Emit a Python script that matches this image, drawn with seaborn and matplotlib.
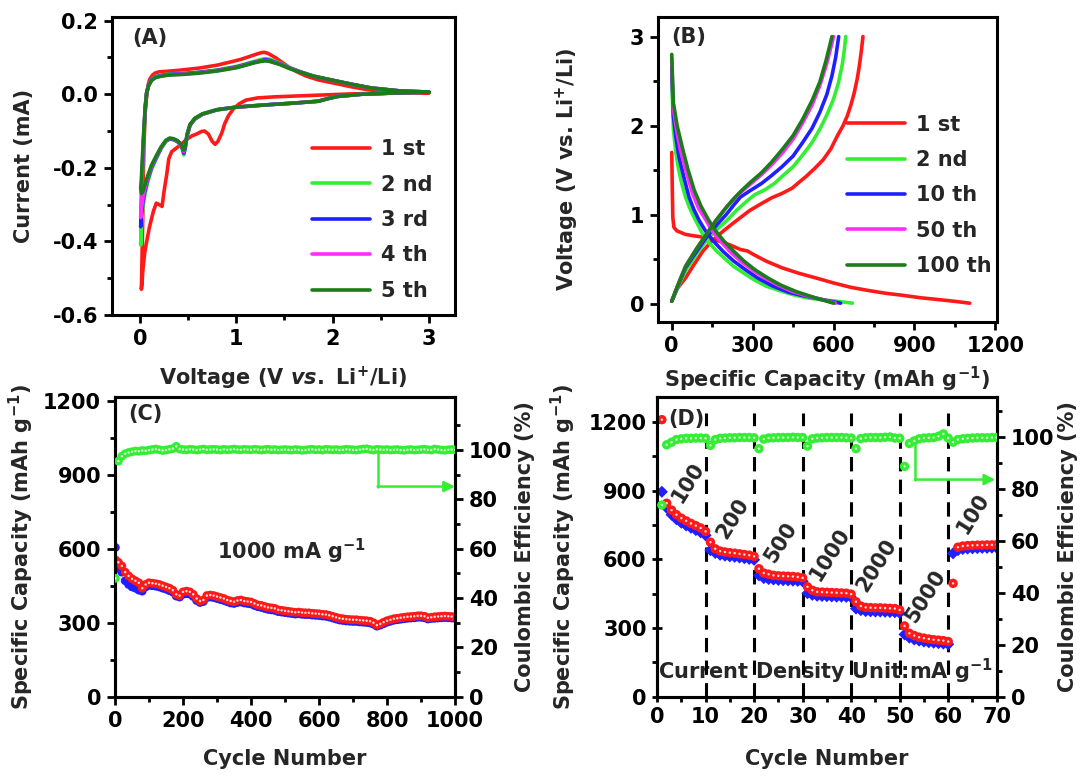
import numpy as np
import matplotlib
matplotlib.use('Agg')
import matplotlib.pyplot as plt
import seaborn as sns
from matplotlib.ticker import MultipleLocator, FixedLocator, FormatStrFormatter

# ---------------- DATA ----------------
# (A) cyclic voltammetry, cycle 1
cv1_v = [3.00, 2.60, 2.20, 2.00, 1.70, 1.40, 1.22, 1.10, 1.03, 0.97,
         0.92, 0.88, 0.85, 0.81, 0.78, 0.75, 0.71, 0.67, 0.64, 0.59,
         0.54, 0.48, 0.42, 0.37, 0.33, 0.30, 0.28, 0.25, 0.23, 0.20,
         0.17, 0.14, 0.10, 0.07, 0.05, 0.03, 0.02, 0.015, 0.02, 0.03,
         0.035, 0.045, 0.055, 0.07, 0.085, 0.10, 0.13, 0.16, 0.20, 0.26,
         0.40, 0.61, 0.80, 0.96, 1.05, 1.13, 1.21, 1.26, 1.29, 1.33,
         1.41, 1.48, 1.55, 1.63, 1.72, 1.85, 2.00, 2.20, 2.35, 2.60,
         2.80, 3.00]
cv1_i = [0.004, 0.003, 0.001, -0.001, -0.004, -0.007, -0.010, -0.016, -0.026, -0.040,
         -0.058, -0.080, -0.105, -0.128, -0.136, -0.128, -0.108, -0.100, -0.101, -0.108,
         -0.113, -0.124, -0.138, -0.148, -0.156, -0.175, -0.215, -0.265, -0.305, -0.300,
         -0.296, -0.318, -0.360, -0.400, -0.430, -0.480, -0.520, -0.530, -0.470, -0.330,
         -0.220, -0.120, -0.050, -0.005, 0.025, 0.040, 0.052, 0.058, 0.061, 0.062,
         0.065, 0.071, 0.079, 0.089, 0.095, 0.102, 0.109, 0.113, 0.114, 0.111,
         0.099, 0.086, 0.073, 0.061, 0.050, 0.039, 0.031, 0.020, 0.013, 0.008,
         0.006, 0.004]
# (A) cycles 2-5 share the potential sweep
cv_v = [3.00, 2.60, 2.30, 2.05, 1.95, 1.85, 1.60, 1.30, 1.00, 0.80,
        0.65, 0.57, 0.52, 0.49, 0.47, 0.455, 0.44, 0.42, 0.39, 0.35,
        0.31, 0.27, 0.22, 0.17, 0.12, 0.08, 0.05, 0.03, 0.015, 0.008,
        0.015, 0.025, 0.04, 0.055, 0.07, 0.09, 0.12, 0.16, 0.22, 0.30,
        0.45, 0.60, 0.80, 1.00, 1.10, 1.18, 1.25, 1.30, 1.35, 1.45,
        1.55, 1.65, 1.80, 2.00, 2.20, 2.40, 2.70, 3.00]
cv2_i = [0.006, 0.003, 0.000, -0.006, -0.012, -0.019, -0.024, -0.029, -0.035, -0.043,
         -0.055, -0.068, -0.085, -0.115, -0.150, -0.165, -0.150, -0.138, -0.130, -0.124,
         -0.122, -0.128, -0.148, -0.175, -0.205, -0.240, -0.275, -0.310, -0.360, -0.410,
         -0.330, -0.220, -0.120, -0.040, 0.005, 0.025, 0.040, 0.048, 0.052, 0.055,
         0.057, 0.060, 0.066, 0.076, 0.083, 0.089, 0.094, 0.097, 0.095, 0.085,
         0.073, 0.063, 0.050, 0.038, 0.027, 0.017, 0.009, 0.006]
cv3_i = [0.006, 0.003, 0.000, -0.006, -0.012, -0.019, -0.024, -0.029, -0.035, -0.042,
         -0.054, -0.067, -0.084, -0.112, -0.146, -0.160, -0.147, -0.136, -0.128, -0.123,
         -0.121, -0.127, -0.146, -0.172, -0.200, -0.232, -0.265, -0.295, -0.330, -0.360,
         -0.300, -0.205, -0.112, -0.038, 0.004, 0.024, 0.039, 0.047, 0.051, 0.054,
         0.056, 0.059, 0.065, 0.074, 0.081, 0.087, 0.091, 0.094, 0.092, 0.083,
         0.072, 0.062, 0.049, 0.038, 0.027, 0.017, 0.009, 0.006]
cv4_i = [0.006, 0.003, 0.000, -0.006, -0.012, -0.019, -0.024, -0.029, -0.035, -0.042,
         -0.054, -0.066, -0.083, -0.110, -0.143, -0.156, -0.145, -0.135, -0.127, -0.122,
         -0.120, -0.126, -0.145, -0.170, -0.197, -0.228, -0.258, -0.285, -0.315, -0.335,
         -0.285, -0.198, -0.108, -0.036, 0.004, 0.024, 0.038, 0.046, 0.050, 0.053,
         0.055, 0.058, 0.064, 0.073, 0.080, 0.086, 0.090, 0.092, 0.090, 0.082,
         0.071, 0.062, 0.049, 0.038, 0.027, 0.017, 0.009, 0.006]
cv5_i = [0.006, 0.003, 0.000, -0.006, -0.012, -0.019, -0.024, -0.029, -0.035, -0.042,
         -0.053, -0.065, -0.082, -0.108, -0.140, -0.152, -0.143, -0.134, -0.126, -0.121,
         -0.119, -0.125, -0.143, -0.167, -0.193, -0.222, -0.248, -0.265, -0.270, -0.255,
         -0.230, -0.175, -0.100, -0.034, 0.004, 0.023, 0.037, 0.045, 0.049, 0.052,
         0.054, 0.057, 0.063, 0.072, 0.079, 0.085, 0.089, 0.091, 0.089, 0.081,
         0.070, 0.061, 0.049, 0.038, 0.027, 0.017, 0.009, 0.006]
cv_labels = ['1 st', '2 nd', '3 rd', '4 th', '5 th']

# (B) galvanostatic discharge / charge profiles
gd1_c = [0, 2, 4, 8, 19, 35, 51, 80, 115, 150, 192, 225, 255, 280, 306, 350, 409, 470,
         536, 600, 664, 730, 792, 860, 920, 1000, 1060, 1105]
gd1_v = [1.70, 1.30, 0.97, 0.86, 0.82, 0.80, 0.78, 0.765, 0.75, 0.725, 0.69, 0.65, 0.61,
         0.595, 0.55, 0.48, 0.405, 0.345, 0.29, 0.235, 0.186, 0.15, 0.12, 0.095, 0.07,
         0.045, 0.025, 0.008]
gc1_c = [0, 20, 51, 80, 115, 150, 192, 225, 255, 290, 332, 370, 409, 447, 470, 498, 530,
         562, 590, 613, 635, 651, 665, 677, 688, 696, 703, 709]
gc1_v = [0.03, 0.17, 0.29, 0.43, 0.59, 0.71, 0.82, 0.90, 0.97, 1.05, 1.125, 1.19, 1.24,
         1.30, 1.36, 1.43, 1.52, 1.62, 1.74, 1.88, 2.00, 2.11, 2.24, 2.375, 2.53, 2.68,
         2.84, 3.00]
gd2_c = [0, 3, 6, 15, 26, 38, 51, 66, 83, 100, 115, 140, 166, 200, 230, 270, 306, 350,
         409, 460, 511, 560, 600, 640, 670]
gd2_v = [2.55, 2.25, 1.96, 1.70, 1.50, 1.34, 1.20, 1.08, 0.97, 0.87, 0.78, 0.68, 0.595,
         0.50, 0.42, 0.34, 0.27, 0.20, 0.14, 0.095, 0.064, 0.045, 0.034, 0.02, 0.008]
gc2_c = [0, 20, 51, 90, 128, 165, 204, 240, 281, 310, 345, 380, 409, 450, 485, 520, 549,
         575, 600, 618, 632, 640, 645]
gc2_v = [0.03, 0.17, 0.37, 0.55, 0.71, 0.83, 0.935, 1.05, 1.16, 1.23, 1.28, 1.35, 1.43,
         1.54, 1.67, 1.81, 1.96, 2.12, 2.30, 2.48, 2.68, 2.85, 3.00]
gd10_c = [0, 3, 6, 15, 26, 45, 64, 82, 102, 125, 153, 190, 230, 275, 319, 375, 434, 490,
          536, 580, 626]
gd10_v = [2.65, 2.38, 2.11, 1.88, 1.66, 1.42, 1.20, 1.06, 0.935, 0.82, 0.71, 0.59, 0.48,
          0.38, 0.29, 0.20, 0.13, 0.09, 0.064, 0.035, 0.008]
gc10_c = [0, 20, 51, 90, 128, 165, 204, 230, 255, 290, 332, 370, 409, 450, 485, 520, 549,
          575, 594, 608, 619]
gc10_v = [0.03, 0.18, 0.405, 0.58, 0.745, 0.88, 1.01, 1.11, 1.20, 1.27, 1.35, 1.44, 1.54,
          1.66, 1.81, 1.97, 2.15, 2.35, 2.56, 2.77, 3.00]
gd50_c = [0, 3, 6, 18, 32, 55, 77, 100, 128, 150, 179, 215, 255, 300, 345, 395, 447, 495,
          536, 575, 607]
gd50_v = [2.75, 2.45, 2.19, 1.95, 1.73, 1.47, 1.24, 1.07, 0.935, 0.82, 0.71, 0.59, 0.48,
          0.38, 0.29, 0.21, 0.14, 0.095, 0.064, 0.035, 0.008]
gc50_c = [0, 20, 51, 90, 128, 165, 204, 225, 243, 290, 332, 370, 409, 450, 485, 520, 549,
          575, 600]
gc50_v = [0.03, 0.19, 0.42, 0.61, 0.78, 0.94, 1.09, 1.16, 1.22, 1.34, 1.45, 1.56, 1.69,
          1.85, 2.03, 2.23, 2.45, 2.70, 3.00]
gd100_c = [0, 3, 6, 20, 38, 60, 83, 108, 134, 160, 192, 230, 268, 310, 357, 405, 460, 505,
           536, 570, 600]
gd100_v = [2.80, 2.52, 2.26, 2.00, 1.77, 1.51, 1.28, 1.10, 0.955, 0.83, 0.71, 0.59, 0.48,
           0.38, 0.29, 0.21, 0.14, 0.095, 0.064, 0.035, 0.008]
gc100_c = [0, 20, 51, 90, 128, 165, 204, 230, 255, 290, 332, 370, 409, 450, 485, 520, 549,
           572, 594]
gc100_v = [0.03, 0.19, 0.42, 0.61, 0.78, 0.94, 1.09, 1.18, 1.26, 1.36, 1.47, 1.59, 1.73,
           1.89, 2.07, 2.28, 2.49, 2.73, 3.00]
gcd_labels = ['1 st', '2 nd', '10 th', '50 th', '100 th']

# (C) long cycling at 1000 mA g-1 (cycle 1, then every 10th cycle)
cyc_c = [1] + list(range(10, 1001, 10))
dis_c = [555, 545, 530, 505, 490, 478, 470, 462, 440, 455,
         462, 460, 458, 455, 450, 445, 440, 432, 415, 410,
         425, 428, 425, 415, 398, 388, 392, 410, 412, 410,
         406, 402, 398, 392, 388, 385, 390, 392, 388, 386,
         384, 378, 372, 370, 366, 362, 360, 358, 352, 350,
         348, 346, 344, 342, 343, 341, 340, 340, 338, 337,
         336, 334, 333, 330, 326, 322, 318, 316, 314, 313,
         312, 312, 310, 309, 308, 306, 300, 290, 295, 302,
         308, 312, 316, 318, 320, 322, 324, 325, 326, 328,
         328, 326, 320, 322, 324, 325, 326, 327, 326, 325,
         324]
chg_c = [605, 520, 505, 470, 455, 445, 440, 432, 428, 445,
         452, 450, 448, 445, 440, 436, 430, 424, 408, 404,
         415, 418, 416, 406, 390, 382, 386, 402, 404, 402,
         398, 394, 390, 385, 380, 378, 382, 384, 380, 378,
         376, 370, 365, 362, 358, 354, 352, 350, 345, 343,
         341, 339, 337, 335, 336, 334, 333, 333, 331, 330,
         329, 327, 326, 323, 319, 315, 311, 309, 307, 306,
         305, 305, 303, 302, 301, 299, 294, 286, 290, 296,
         302, 306, 310, 312, 314, 316, 318, 319, 320, 322,
         322, 320, 315, 317, 318, 319, 320, 321, 320, 319,
         318]
ce_c = [48.0, 95.5, 97.5, 98.5, 99.0, 99.3, 99.6, 99.5, 99.8, 99.7,
        100.0, 100.2, 100.4, 100.1, 99.8, 100.0, 100.3, 100.6, 101.5, 100.4,
        100.2, 100.1, 100.3, 100.2, 100.0, 100.2, 100.4, 100.1, 100.2, 100.3,
        100.2, 100.0, 100.3, 100.1, 100.2, 100.4, 100.2, 100.1, 100.3, 100.2,
        100.1, 100.3, 100.2, 100.0, 100.2, 100.3, 100.1, 100.2, 100.0, 100.1,
        100.2, 100.1, 100.0, 100.2, 100.1, 99.9, 100.0, 100.2, 100.3, 100.1,
        100.2, 100.0, 100.3, 100.2, 100.1, 100.2, 100.0, 100.1, 100.3, 100.2,
        100.1, 100.0, 100.2, 100.4, 100.5, 100.2, 100.0, 100.3, 100.2, 100.1,
        100.2, 100.0, 100.1, 100.2, 100.0, 99.9, 100.1, 100.2, 100.0, 100.1,
        100.2, 100.3, 100.1, 100.0, 100.4, 100.2, 100.0, 99.9, 100.1, 100.2,
        100.1]

# (D) rate capability, cycles 1-70
cyc_d = list(range(1, 71))
dis_d = [1210, 845, 815, 795, 780, 768, 757, 747, 737, 722,
         675, 646, 636, 632, 629, 627, 624, 621, 618, 613,
         559, 540, 535, 530, 528, 527, 526, 525, 523, 519,
         480, 465, 458, 457, 456, 455, 454, 453, 452, 448,
         415, 396, 390, 389, 388, 388, 387, 386, 385, 379,
         309, 277, 267, 260, 256, 252, 249, 247, 245, 241,
         495, 653, 658, 660, 661, 662, 662, 663, 663, 664]
chg_d = [895, 825, 795, 775, 760, 748, 738, 728, 718, 705,
         640, 628, 620, 616, 613, 611, 608, 605, 602, 598,
         530, 518, 514, 512, 510, 509, 508, 507, 506, 504,
         452, 445, 441, 440, 439, 438, 437, 437, 436, 434,
         385, 378, 374, 373, 372, 372, 371, 370, 369, 366,
         272, 258, 250, 245, 241, 238, 236, 234, 232, 229,
         626, 640, 645, 647, 648, 649, 650, 650, 651, 651]
ce_d = [73.8, 97.0, 98.0, 99.0, 99.3, 99.5, 99.5, 99.6, 99.6, 99.5,
        96.8, 99.0, 99.5, 99.6, 99.7, 99.7, 99.8, 99.8, 99.8, 99.7,
        95.5, 99.2, 99.6, 99.7, 99.8, 99.8, 99.8, 99.9, 99.8, 99.8,
        96.5, 99.3, 99.6, 99.7, 99.8, 99.8, 99.8, 99.8, 99.7, 99.6,
        95.5, 99.4, 99.7, 99.8, 99.8, 99.8, 99.9, 100.0, 99.6, 99.5,
        88.7, 97.5, 98.5, 99.3, 99.6, 99.7, 99.8, 100.3, 101.2, 99.6,
        98.0, 99.0, 99.3, 99.5, 99.6, 99.7, 99.7, 99.7, 99.8, 99.8]
rate_bounds = [10, 20, 30, 40, 50, 60]
rate_labels = ['100', '200', '500', '1000', '2000', '5000', '100']
rate_label_x = [6.4, 15.7, 25.6, 35.6, 45.2, 55.3, 65.2]
rate_label_y = [935, 779, 675, 624, 574, 437, 800]

# ---------------- STYLE ----------------
sns.set_theme(style='ticks')
plt.rcParams['font.family'] = ['DejaVu Sans']
plt.rcParams['font.weight'] = 'bold'
plt.rcParams['axes.labelweight'] = 'bold'
plt.rcParams['axes.unicode_minus'] = False
plt.rcParams['mathtext.fontset'] = 'custom'
plt.rcParams['mathtext.rm'] = 'DejaVu Sans:bold'
plt.rcParams['mathtext.it'] = 'DejaVu Sans:italic:bold'
plt.rcParams['mathtext.bf'] = 'DejaVu Sans:bold'
plt.rcParams['mathtext.default'] = 'rm'

RED = '#ff1a1a'
GREEN = '#33ee33'
BLUE = '#1f1fff'
MAGENTA = '#ff2bff'
DKGREEN = '#1a7d1a'
FS = 15

fig = plt.figure(figsize=(10.84, 7.76), dpi=100)
axA = fig.add_axes([0.1033, 0.5941, 0.3164, 0.3840])
axB = fig.add_axes([0.6070, 0.5854, 0.3125, 0.3927])
axC = fig.add_axes([0.1061, 0.1022, 0.3137, 0.3862])
axD = fig.add_axes([0.6061, 0.1022, 0.3134, 0.3862])


def style(ax, direction='out'):
    for sp in ax.spines.values():
        sp.set_linewidth(2.2)
        sp.set_color('black')
    ax.tick_params(which='major', direction=direction, length=6, width=2,
                   labelsize=FS, pad=4, colors='black')
    ax.tick_params(which='minor', direction='out', length=3.5, width=2, colors='black')
    for lab in ax.get_xticklabels() + ax.get_yticklabels():
        lab.set_fontweight('bold')


LEG = dict(loc='upper left', frameon=False, fontsize=FS, handlelength=2.8,
           handletextpad=0.5, labelspacing=0.74, borderpad=0, borderaxespad=0)

# ---------- (A) ----------
cv_sets = [(cv1_v, cv1_i, RED), (cv_v, cv2_i, GREEN), (cv_v, cv3_i, BLUE),
           (cv_v, cv4_i, MAGENTA), (cv_v, cv5_i, DKGREEN)]
for (vx, iy, col), lab in zip(cv_sets, cv_labels):
    sns.lineplot(x=vx, y=iy, sort=False, estimator=None, color=col, linewidth=2.6,
                 ax=axA, label=lab)
axA.set_xlim(-0.29, 3.27)
axA.set_ylim(-0.6, 0.21)
axA.xaxis.set_major_locator(FixedLocator([0, 1, 2, 3]))
axA.xaxis.set_minor_locator(FixedLocator([0.5, 1.5, 2.5]))
axA.yaxis.set_major_locator(MultipleLocator(0.2))
axA.yaxis.set_minor_locator(MultipleLocator(0.1))
axA.yaxis.set_major_formatter(FormatStrFormatter('%.1f'))
style(axA)
axA.set_xlabel(r'Voltage (V $\mathit{vs.}$ Li$^{+}$/Li)', fontsize=FS, fontweight='bold')
axA.set_ylabel('Current (mA)', fontsize=FS, fontweight='bold')
axA.yaxis.set_label_coords(-0.227, 0.5)
axA.xaxis.set_label_coords(0.5, -0.168)
axA.text(0.06, 0.93, '(A)', transform=axA.transAxes, fontsize=FS, fontweight='bold',
         va='center', ha='left')
axA.legend(bbox_to_anchor=(0.583, 0.59), **LEG)

# ---------- (B) ----------
gcd_sets = [(gd1_c, gd1_v, gc1_c, gc1_v, RED), (gd2_c, gd2_v, gc2_c, gc2_v, GREEN),
            (gd10_c, gd10_v, gc10_c, gc10_v, BLUE), (gd50_c, gd50_v, gc50_c, gc50_v, MAGENTA),
            (gd100_c, gd100_v, gc100_c, gc100_v, DKGREEN)]
for (dc, dv, cc, cvv, col), lab in zip(gcd_sets, gcd_labels):
    sns.lineplot(x=dc, y=dv, sort=False, estimator=None, color=col, linewidth=2.6,
                 ax=axB, label=lab)
    sns.lineplot(x=cc, y=cvv, sort=False, estimator=None, color=col, linewidth=2.6,
                 ax=axB)
axB.set_xlim(-51, 1205)
axB.set_ylim(-0.2, 3.22)
axB.xaxis.set_major_locator(MultipleLocator(300))
axB.xaxis.set_minor_locator(MultipleLocator(150))
axB.yaxis.set_major_locator(MultipleLocator(1))
axB.yaxis.set_minor_locator(MultipleLocator(0.5))
style(axB)
axB.set_xlabel(r'Specific Capacity (mAh g$^{-1}$)', fontsize=FS, fontweight='bold')
axB.set_ylabel(r'Voltage (V vs. Li$^{+}$/Li)', fontsize=FS, fontweight='bold')
axB.yaxis.set_label_coords(-0.227, 0.5)
axB.xaxis.set_label_coords(0.5, -0.14)
axB.text(0.04, 0.933, '(B)', transform=axB.transAxes, fontsize=FS, fontweight='bold',
         va='center', ha='left')
axB.legend(bbox_to_anchor=(0.558, 0.68), **LEG)


def balls(ax, x, y, col, s, marker='o', z=3):
    sns.scatterplot(x=x, y=y, ax=ax, color=col, s=s, marker=marker, edgecolor='none',
                    linewidth=0, legend=False, zorder=z)


def highlights(ax, x, y, z=4):
    sns.scatterplot(x=x, y=y, ax=ax, color='white', s=3, marker='o', edgecolor='none',
                    linewidth=0, alpha=0.85, legend=False, zorder=z)


# ---------- (C) ----------
axC2 = axC.twinx()
balls(axC, cyc_c, chg_c, BLUE, 40, z=2)
balls(axC, cyc_c, dis_c, RED, 40, z=3)
highlights(axC, cyc_c, dis_c)
balls(axC2, cyc_c, ce_c, GREEN, 40, z=3)
highlights(axC2, cyc_c, ce_c)
axC.set_xlim(0, 1000)
axC.set_ylim(0, 1215)
axC2.set_ylim(0, 121.5)
axC.xaxis.set_major_locator(MultipleLocator(200))
axC.xaxis.set_minor_locator(MultipleLocator(100))
axC.yaxis.set_major_locator(MultipleLocator(300))
axC.yaxis.set_minor_locator(MultipleLocator(150))
axC2.yaxis.set_major_locator(FixedLocator([0, 20, 40, 60, 80, 100]))
axC2.yaxis.set_minor_locator(FixedLocator([10, 30, 50, 70, 90, 110]))
style(axC)
style(axC2)
axC.tick_params(which='both', right=False)
axC2.tick_params(which='both', left=False, right=True)
axC.set_xlabel('Cycle Number', fontsize=FS, fontweight='bold')
axC.set_ylabel(r'Specific Capacity (mAh g$^{-1}$)', fontsize=FS, fontweight='bold')
axC2.set_ylabel('Coulombic Efficiency (%)', fontsize=FS, fontweight='bold')
axC.yaxis.set_label_coords(-0.232, 0.5)
axC2.yaxis.set_label_coords(1.176, 0.5)
axC.xaxis.set_label_coords(0.5, -0.175)
axC.text(0.038, 0.943, '(C)', transform=axC.transAxes, fontsize=FS, fontweight='bold',
         va='center', ha='left')
axC.text(518, 588, r'1000 mA g$^{-1}$', fontsize=FS, fontweight='bold', ha='center',
         va='center')
axC2.plot([772, 772], [98.6, 85.2], color=GREEN, lw=1.8, zorder=5)
axC2.annotate('', xy=(1000, 85.2), xytext=(772, 85.2),
              arrowprops=dict(arrowstyle='-|>', color=GREEN, lw=1.8, mutation_scale=16,
                              shrinkA=0, shrinkB=0), zorder=5)

# ---------- (D) ----------
axD2 = axD.twinx()
axD.vlines(rate_bounds, 0, 1240, colors='black', linewidth=2.2,
           linestyles=(0, (4.7, 2.7)), zorder=2)
balls(axD, cyc_d, chg_d, BLUE, 38, marker='D', z=3)
balls(axD, cyc_d, dis_d, RED, 46, z=4)
highlights(axD, cyc_d, dis_d, z=5)
balls(axD2, cyc_d, ce_d, GREEN, 46, z=3)
highlights(axD2, cyc_d, ce_d)
axD.set_xlim(0, 70)
axD.set_ylim(0, 1309)
axD2.set_ylim(0, 115.4)
axD.xaxis.set_major_locator(MultipleLocator(10))
axD.xaxis.set_minor_locator(MultipleLocator(5))
axD.yaxis.set_major_locator(MultipleLocator(300))
axD.yaxis.set_minor_locator(MultipleLocator(150))
axD2.yaxis.set_major_locator(FixedLocator([0, 20, 40, 60, 80, 100]))
axD2.yaxis.set_minor_locator(FixedLocator([10, 30, 50, 70, 90, 110]))
style(axD, direction='inout')
style(axD2)
axD.tick_params(which='major', length=7)
axD.tick_params(which='both', right=False)
axD2.tick_params(which='both', left=False, right=True)
axD.set_xlabel('Cycle Number', fontsize=FS, fontweight='bold')
axD.set_ylabel(r'Specific Capacity (mAh g$^{-1}$)', fontsize=FS, fontweight='bold')
axD2.set_ylabel('Coulombic Efficiency (%)', fontsize=FS, fontweight='bold')
axD.yaxis.set_label_coords(-0.233, 0.5)
axD2.yaxis.set_label_coords(1.18, 0.5)
axD.xaxis.set_label_coords(0.5, -0.175)
axD.text(0.032, 0.926, '(D)', transform=axD.transAxes, fontsize=FS, fontweight='bold',
         va='center', ha='left', zorder=6)
for lx, ly, lt in zip(rate_label_x, rate_label_y, rate_labels):
    axD.text(lx, ly, lt, fontsize=FS, fontweight='bold', rotation=58, ha='center',
             va='center', rotation_mode='anchor', zorder=6)
axD.text(0.2, 111, r'Current Density Unit:mA g$^{-1}$', fontsize=FS, fontweight='bold',
         ha='left', va='center', zorder=1)
axD2.plot([53.2, 53.2], [97.5, 83.6], color=GREEN, lw=1.8, zorder=5)
axD2.annotate('', xy=(69.7, 83.6), xytext=(53.2, 83.6),
              arrowprops=dict(arrowstyle='-|>', color=GREEN, lw=1.8, mutation_scale=16,
                              shrinkA=0, shrinkB=0), zorder=5)

fig.savefig('out.png', dpi=100, facecolor='white')
